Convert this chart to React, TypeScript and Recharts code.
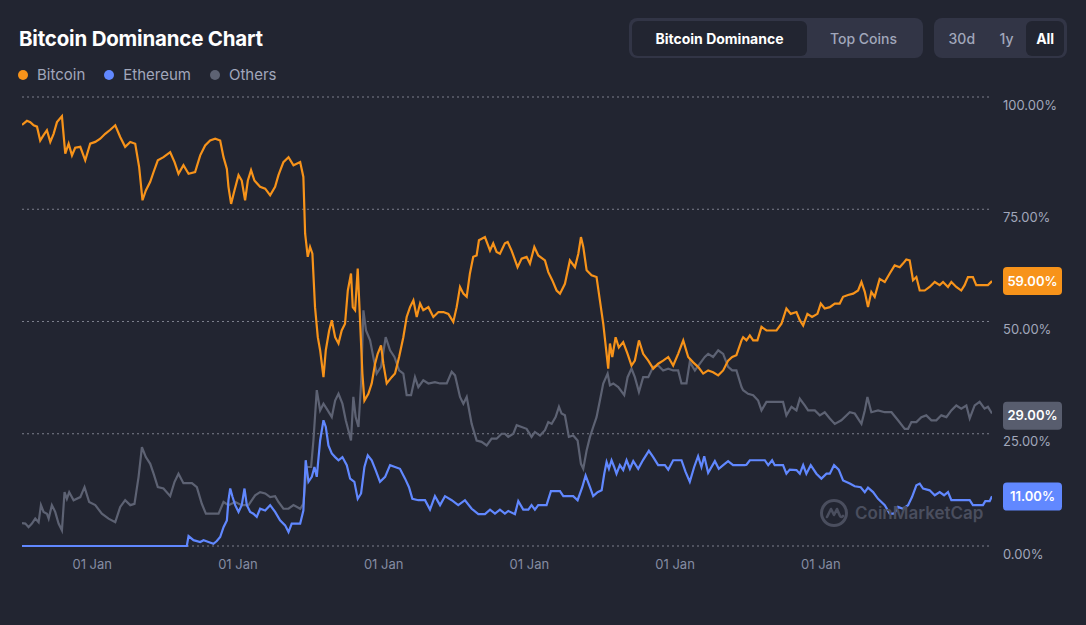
import { CartesianGrid, Line, LineChart, ReferenceLine, XAxis, YAxis } from "recharts";

// [decimal year, dominance %]
const bitcoin: [number, number][] = [
  [2013.518, 93.8], [2013.552, 94.7], [2013.575, 94.4], [2013.598, 93.7], [2013.621, 93.4], [2013.643, 90.3],
  [2013.666, 91.5], [2013.689, 92.6], [2013.712, 90.0], [2013.735, 91.8], [2013.758, 94.4], [2013.792, 95.7],
  [2013.815, 87.4], [2013.838, 89.6], [2013.861, 87.0], [2013.883, 88.7], [2013.918, 88.9], [2013.952, 85.9],
  [2013.986, 89.6], [2014.021, 90.0], [2014.055, 90.7], [2014.089, 91.8], [2014.124, 92.7], [2014.158, 93.7],
  [2014.192, 91.1], [2014.226, 88.9], [2014.261, 90.0], [2014.295, 89.6], [2014.322, 84.4], [2014.345, 77.0],
  [2014.368, 79.2], [2014.398, 81.1], [2014.421, 83.3], [2014.45, 85.9], [2014.489, 86.6], [2014.535, 87.7],
  [2014.565, 85.5], [2014.592, 82.9], [2014.626, 84.8], [2014.661, 82.9], [2014.706, 83.3], [2014.741, 87.0],
  [2014.775, 89.2], [2014.809, 90.3], [2014.844, 90.7], [2014.878, 90.3], [2014.901, 86.6], [2014.924, 84.0],
  [2014.935, 80.0], [2014.953, 76.2], [2014.976, 79.2], [2015.004, 82.6], [2015.026, 81.4], [2015.049, 77.0],
  [2015.068, 81.4], [2015.09, 83.7], [2015.113, 81.4], [2015.152, 80.0], [2015.187, 79.6], [2015.221, 78.1],
  [2015.255, 80.0], [2015.278, 82.6], [2015.312, 85.5], [2015.347, 86.6], [2015.381, 84.8], [2015.427, 85.5],
  [2015.449, 82.2], [2015.461, 69.6], [2015.479, 64.4], [2015.495, 66.6], [2015.511, 65.1], [2015.529, 53.2],
  [2015.548, 46.5], [2015.564, 43.6], [2015.587, 37.6], [2015.603, 43.6], [2015.626, 48.0], [2015.644, 50.3],
  [2015.667, 46.5], [2015.69, 45.1], [2015.712, 48.0], [2015.735, 49.5], [2015.754, 56.9], [2015.776, 60.7],
  [2015.788, 53.2], [2015.804, 52.5], [2015.822, 61.8], [2015.838, 50.3], [2015.854, 38.4], [2015.868, 32.4],
  [2015.895, 33.9], [2015.918, 36.2], [2015.941, 40.6], [2015.959, 42.8], [2015.982, 44.7], [2015.998, 40.6],
  [2016.021, 36.2], [2016.055, 37.6], [2016.078, 38.4], [2016.106, 42.1], [2016.135, 46.5], [2016.158, 51.0],
  [2016.181, 53.2], [2016.204, 54.7], [2016.227, 51.0], [2016.25, 54.0], [2016.272, 52.5], [2016.307, 53.2],
  [2016.341, 51.0], [2016.376, 52.1], [2016.41, 52.1], [2016.444, 51.7], [2016.478, 49.9], [2016.501, 53.2],
  [2016.524, 57.7], [2016.547, 56.2], [2016.57, 55.5], [2016.592, 60.7], [2016.615, 64.4], [2016.638, 64.7],
  [2016.654, 68.1], [2016.695, 68.8], [2016.73, 65.8], [2016.752, 67.4], [2016.775, 65.5], [2016.798, 65.1],
  [2016.832, 67.4], [2016.851, 67.7], [2016.878, 65.8], [2016.919, 62.1], [2016.947, 64.0], [2016.981, 64.4],
  [2017.004, 62.9], [2017.034, 66.6], [2017.061, 64.7], [2017.107, 63.6], [2017.13, 61.0], [2017.157, 59.2],
  [2017.187, 56.9], [2017.21, 56.2], [2017.244, 58.4], [2017.278, 63.6], [2017.313, 62.1], [2017.336, 65.1],
  [2017.354, 68.8], [2017.37, 66.6], [2017.393, 61.4], [2017.427, 60.3], [2017.461, 59.9], [2017.484, 54.7],
  [2017.507, 49.5], [2017.53, 42.8], [2017.541, 39.5], [2017.553, 45.1], [2017.569, 42.1], [2017.592, 46.5],
  [2017.614, 44.2], [2017.644, 45.4], [2017.674, 42.8], [2017.701, 40.2], [2017.724, 41.3], [2017.752, 45.8],
  [2017.781, 42.8], [2017.816, 41.3], [2017.85, 39.5], [2017.884, 40.6], [2017.918, 41.3], [2017.953, 42.1],
  [2017.987, 40.2], [2018.021, 42.8], [2018.056, 45.8], [2018.09, 42.1], [2018.124, 40.9], [2018.158, 39.9],
  [2018.193, 38.4], [2018.227, 39.1], [2018.261, 38.7], [2018.296, 38.0], [2018.33, 39.1], [2018.364, 41.3],
  [2018.392, 42.1], [2018.421, 42.5], [2018.456, 45.8], [2018.467, 46.5], [2018.49, 45.8], [2018.513, 46.9],
  [2018.536, 45.8], [2018.565, 45.8], [2018.593, 48.8], [2018.627, 48.0], [2018.661, 48.0], [2018.696, 48.0],
  [2018.73, 49.5], [2018.764, 52.9], [2018.794, 51.7], [2018.833, 52.1], [2018.856, 50.3], [2018.879, 49.1],
  [2018.908, 51.7], [2018.94, 51.0], [2018.977, 51.7], [2019.0, 54.0], [2019.027, 52.9], [2019.062, 53.2],
  [2019.096, 54.0], [2019.13, 54.0], [2019.153, 55.5], [2019.187, 55.9], [2019.222, 56.2], [2019.256, 56.9],
  [2019.279, 58.8], [2019.302, 56.6], [2019.324, 53.2], [2019.347, 56.6], [2019.37, 55.5], [2019.404, 59.5],
  [2019.439, 58.8], [2019.473, 60.7], [2019.507, 62.5], [2019.542, 62.1], [2019.564, 62.9], [2019.587, 63.8],
  [2019.61, 63.6], [2019.633, 59.2], [2019.656, 59.9], [2019.679, 56.9], [2019.713, 56.9], [2019.747, 57.7],
  [2019.782, 58.8], [2019.816, 58.1], [2019.839, 58.8], [2019.873, 57.7], [2019.896, 58.8], [2019.93, 57.7],
  [2019.964, 56.9], [2019.987, 58.1], [2020.01, 59.9], [2020.044, 59.9], [2020.067, 58.1], [2020.113, 58.1],
  [2020.147, 58.1], [2020.175, 59.0],
];

const ethereum: [number, number][] = [
  [2013.518, 0], [2014.649, 0], [2014.661, 2.2], [2014.695, 1.3], [2014.741, 0.9], [2014.764, 1.3],
  [2014.798, 0.9], [2014.832, 0.5], [2014.855, 1.1], [2014.878, 2.0], [2014.901, 4.2], [2014.924, 5.7],
  [2014.935, 10.2], [2014.947, 12.8], [2014.963, 10.9], [2014.981, 9.1], [2015.004, 7.6], [2015.026, 9.1],
  [2015.045, 12.8], [2015.061, 9.1], [2015.084, 7.6], [2015.106, 7.2], [2015.129, 6.5], [2015.152, 8.3],
  [2015.187, 7.9], [2015.221, 9.1], [2015.255, 7.6], [2015.289, 5.7], [2015.324, 4.6], [2015.347, 3.1],
  [2015.369, 5.0], [2015.427, 5.0], [2015.449, 7.9], [2015.465, 19.1], [2015.484, 14.3], [2015.507, 15.4],
  [2015.525, 17.6], [2015.541, 15.4], [2015.564, 23.5], [2015.587, 28.0], [2015.603, 26.5], [2015.621, 22.4],
  [2015.644, 20.6], [2015.667, 19.8], [2015.69, 19.1], [2015.717, 19.8], [2015.747, 18.0], [2015.77, 15.0],
  [2015.799, 14.3], [2015.822, 10.5], [2015.845, 11.7], [2015.868, 17.6], [2015.891, 20.2], [2015.918, 19.1],
  [2015.945, 16.9], [2015.975, 14.3], [2016.01, 15.4], [2016.044, 18.0], [2016.078, 17.6], [2016.112, 17.2],
  [2016.147, 15.0], [2016.174, 13.1], [2016.197, 10.5], [2016.238, 10.2], [2016.284, 10.2], [2016.318, 8.1],
  [2016.352, 11.1], [2016.387, 9.1], [2016.421, 11.1], [2016.467, 10.2], [2016.512, 9.1], [2016.558, 10.2],
  [2016.604, 8.3], [2016.65, 7.1], [2016.695, 7.1], [2016.73, 8.1], [2016.764, 7.2], [2016.798, 8.1],
  [2016.832, 7.2], [2016.855, 7.8], [2016.901, 7.1], [2016.924, 10.0], [2016.958, 8.1], [2016.993, 8.1],
  [2017.015, 9.1], [2017.038, 8.1], [2017.061, 9.1], [2017.118, 9.1], [2017.148, 12.2], [2017.21, 12.2],
  [2017.233, 11.1], [2017.301, 11.1], [2017.331, 10.2], [2017.363, 13.1], [2017.386, 15.7], [2017.416, 13.1],
  [2017.438, 11.1], [2017.468, 12.0], [2017.496, 12.4], [2017.514, 16.1], [2017.53, 18.7], [2017.546, 17.2],
  [2017.564, 19.1], [2017.582, 17.6], [2017.598, 16.1], [2017.621, 18.0], [2017.644, 16.9], [2017.667, 19.1],
  [2017.69, 17.2], [2017.713, 18.9], [2017.747, 17.2], [2017.781, 19.2], [2017.82, 21.2], [2017.85, 19.8],
  [2017.884, 18.0], [2017.93, 18.0], [2017.953, 17.0], [2017.987, 19.1], [2018.044, 19.1], [2018.072, 16.5],
  [2018.101, 14.3], [2018.131, 17.6], [2018.158, 20.0], [2018.181, 17.6], [2018.2, 20.0], [2018.227, 16.3],
  [2018.273, 18.9], [2018.3, 17.2], [2018.33, 18.0], [2018.364, 18.9], [2018.398, 18.0], [2018.478, 18.0],
  [2018.49, 18.1], [2018.513, 19.1], [2018.616, 19.1], [2018.639, 18.0], [2018.666, 19.1], [2018.684, 18.0],
  [2018.741, 18.0], [2018.764, 16.1], [2018.787, 17.0], [2018.833, 16.9], [2018.856, 16.1], [2018.879, 18.0],
  [2018.901, 16.1], [2018.931, 18.0], [2018.97, 16.1], [2019.004, 15.0], [2019.039, 16.1], [2019.062, 16.1],
  [2019.091, 18.0], [2019.123, 17.0], [2019.153, 14.6], [2019.199, 13.9], [2019.233, 13.3], [2019.274, 13.1],
  [2019.302, 12.0], [2019.324, 13.0], [2019.359, 12.0], [2019.393, 10.5], [2019.439, 9.1], [2019.473, 7.2],
  [2019.503, 7.2], [2019.53, 8.7], [2019.564, 8.3], [2019.599, 9.1], [2019.626, 10.9], [2019.656, 13.5],
  [2019.679, 13.9], [2019.702, 12.8], [2019.747, 12.4], [2019.782, 11.3], [2019.816, 12.0], [2019.846, 11.3],
  [2019.873, 12.0], [2019.896, 10.2], [2020.022, 10.2], [2020.044, 9.1], [2020.113, 9.1], [2020.129, 10.0],
  [2020.159, 10.0], [2020.175, 11.1],
];

const others: [number, number][] = [
  [2013.518, 5.1], [2013.541, 5.0], [2013.563, 4.2], [2013.586, 5.0], [2013.609, 6.1], [2013.632, 5.3],
  [2013.648, 9.1], [2013.666, 7.6], [2013.689, 7.2], [2013.701, 6.1], [2013.723, 9.1], [2013.746, 7.6],
  [2013.769, 5.0], [2013.792, 3.5], [2013.81, 12.0], [2013.826, 10.5], [2013.842, 12.0], [2013.872, 10.2],
  [2013.918, 10.9], [2013.947, 13.1], [2013.979, 9.8], [2014.021, 9.1], [2014.066, 7.2], [2014.112, 6.1],
  [2014.158, 5.3], [2014.192, 8.7], [2014.226, 10.2], [2014.261, 9.1], [2014.29, 9.4], [2014.318, 15.4],
  [2014.341, 22.0], [2014.368, 19.8], [2014.398, 18.3], [2014.421, 16.1], [2014.45, 13.1], [2014.489, 12.8],
  [2014.535, 11.1], [2014.565, 14.3], [2014.592, 16.1], [2014.626, 14.0], [2014.684, 14.0], [2014.718, 13.1],
  [2014.752, 9.4], [2014.78, 7.2], [2014.867, 7.2], [2014.901, 9.8], [2014.935, 9.1], [2014.981, 9.8],
  [2015.026, 9.1], [2015.072, 9.1], [2015.118, 11.3], [2015.152, 12.0], [2015.187, 11.7], [2015.221, 10.9],
  [2015.255, 11.1], [2015.278, 9.8], [2015.312, 8.3], [2015.347, 8.3], [2015.381, 9.1], [2015.427, 8.3],
  [2015.449, 9.4], [2015.472, 17.6], [2015.502, 17.6], [2015.518, 23.5], [2015.541, 34.7], [2015.564, 30.2],
  [2015.587, 31.7], [2015.616, 30.2], [2015.644, 28.7], [2015.667, 32.4], [2015.69, 33.9], [2015.717, 31.7],
  [2015.74, 28.0], [2015.758, 25.8], [2015.776, 23.5], [2015.792, 33.2], [2015.808, 28.7], [2015.827, 26.5],
  [2015.845, 36.2], [2015.861, 52.5], [2015.879, 48.0], [2015.907, 45.8], [2015.929, 42.1], [2015.952, 38.4],
  [2015.982, 39.9], [2016.014, 46.5], [2016.044, 43.6], [2016.074, 42.1], [2016.106, 39.1], [2016.135, 38.4],
  [2016.158, 33.6], [2016.188, 33.6], [2016.215, 37.6], [2016.238, 35.4], [2016.272, 36.9], [2016.307, 36.2],
  [2016.352, 36.5], [2016.387, 36.2], [2016.433, 36.2], [2016.467, 38.8], [2016.49, 38.0], [2016.524, 33.2],
  [2016.547, 31.7], [2016.57, 33.2], [2016.604, 27.2], [2016.638, 23.5], [2016.672, 23.2], [2016.707, 22.4],
  [2016.741, 23.9], [2016.775, 23.9], [2016.81, 25.0], [2016.832, 25.0], [2016.855, 24.3], [2016.89, 25.0],
  [2016.913, 26.9], [2016.947, 26.5], [2016.981, 26.1], [2017.015, 24.3], [2017.038, 25.4], [2017.073, 24.6],
  [2017.107, 25.8], [2017.13, 27.6], [2017.153, 27.2], [2017.18, 28.7], [2017.203, 31.0], [2017.221, 29.5],
  [2017.244, 29.1], [2017.271, 24.3], [2017.301, 24.6], [2017.331, 23.5], [2017.354, 18.3], [2017.37, 17.2],
  [2017.393, 21.3], [2017.416, 24.3], [2017.438, 26.5], [2017.461, 28.7], [2017.484, 32.4], [2017.507, 36.2],
  [2017.537, 38.4], [2017.553, 35.8], [2017.576, 36.2], [2017.61, 35.4], [2017.651, 33.6], [2017.674, 37.6],
  [2017.701, 39.5], [2017.724, 37.6], [2017.752, 34.3], [2017.781, 37.6], [2017.816, 37.6], [2017.85, 39.9],
  [2017.884, 40.2], [2017.918, 39.1], [2017.953, 39.5], [2017.987, 39.1], [2018.021, 39.1], [2018.044, 36.2],
  [2018.078, 36.2], [2018.101, 41.0], [2018.136, 39.1], [2018.17, 40.6], [2018.204, 42.1], [2018.227, 42.8],
  [2018.261, 42.1], [2018.296, 43.6], [2018.33, 42.8], [2018.364, 39.9], [2018.392, 39.1], [2018.421, 39.1],
  [2018.456, 35.4], [2018.467, 34.7], [2018.501, 33.9], [2018.536, 33.6], [2018.57, 32.4], [2018.593, 30.2],
  [2018.627, 32.1], [2018.741, 32.1], [2018.764, 29.1], [2018.799, 31.0], [2018.833, 30.2], [2018.856, 32.8],
  [2018.89, 31.3], [2018.913, 30.2], [2018.959, 30.2], [2018.993, 29.1], [2019.027, 29.8], [2019.062, 28.4],
  [2019.096, 27.2], [2019.141, 28.0], [2019.199, 29.8], [2019.233, 29.5], [2019.279, 27.2], [2019.302, 30.2],
  [2019.32, 33.2], [2019.347, 29.8], [2019.393, 30.2], [2019.439, 29.8], [2019.485, 29.8], [2019.53, 28.0],
  [2019.576, 26.1], [2019.599, 26.1], [2019.622, 27.6], [2019.656, 27.6], [2019.69, 28.7], [2019.724, 29.1],
  [2019.759, 28.0], [2019.793, 28.0], [2019.827, 29.1], [2019.862, 28.7], [2019.896, 30.2], [2019.93, 31.3],
  [2019.964, 30.6], [2019.999, 31.3], [2020.022, 28.4], [2020.056, 31.3], [2020.09, 32.1], [2020.124, 30.6],
  [2020.147, 31.0], [2020.175, 29.5],
];

const yearTicks = [2014, 2015, 2016, 2017, 2018, 2019];
const pctTicks = [0, 25, 50, 75, 100];
const latest = { bitcoin: 59, ethereum: 11, others: 29 };

const toRows = (pts: [number, number][]) => pts.map(([t, v]) => ({ t, v }));

const COLORS = {
  bitcoin: "#f7931a",
  ethereum: "#6188ff",
  others: "#5d6273",
  othersBadge: "#585d6e",
};

const FONT = "Inter, 'Noto Sans', sans-serif";

function Badge({ viewBox, text, fill }: any) {
  if (!viewBox) return null;
  const x = viewBox.x + viewBox.width + 11;
  const cy = viewBox.y;
  return (
    <g>
      <rect x={x} y={cy - 14} width={59} height={28} rx={4} fill={fill} />
      <text x={x + 29.5} y={cy + 4.5} textAnchor="middle" fill="#fff" fontSize={13} fontWeight={600} fontFamily={FONT}>
        {text}
      </text>
    </g>
  );
}

function XTick({ x, y }: any) {
  return (
    <text x={x} y={y + 23} textAnchor="middle" fill="#858ca2" fontSize={13} fontFamily={FONT}>
      01 Jan
    </text>
  );
}

function YTick({ x, y, payload }: any) {
  return (
    <text x={x + 11} y={y + 12.5} textAnchor="start" fill="#a1a7bb" fontSize={13} fontFamily={FONT}>
      {`${payload.value.toFixed(2)}%`}
    </text>
  );
}

function LegendItem({ color, label }: { color: string; label: string }) {
  return (
    <div style={{ display: "flex", alignItems: "center", marginRight: 19 }}>
      <span style={{ width: 10, height: 10, borderRadius: 5, background: color, marginRight: 9 }} />
      <span style={{ color: "#a1a7bb", fontSize: 15 }}>{label}</span>
    </div>
  );
}

const groupStyle: React.CSSProperties = {
  position: "absolute",
  top: 18,
  height: 40,
  background: "#323546",
  borderRadius: 8,
  display: "flex",
  alignItems: "center",
  boxSizing: "border-box",
  padding: "0 3px",
  fontSize: 14,
  fontWeight: 600,
};

function Tab({ label, active, width }: { label: string; active?: boolean; width: number }) {
  return (
    <div
      style={{
        width,
        height: 35,
        borderRadius: 6,
        background: active ? "#222531" : "transparent",
        color: active ? "#fff" : "#a1a7bb",
        fontWeight: active ? 700 : 500,
        display: "flex",
        alignItems: "center",
        justifyContent: "center",
      }}
    >
      {label}
    </div>
  );
}

export default function App() {
  return (
    <div
      style={{
        position: "absolute",
        left: 0,
        top: 0,
        width: 1086,
        height: 625,
        background: "#222531",
        fontFamily: FONT,
        overflow: "hidden",
      }}
    >
      <div style={{ position: "absolute", left: 19, top: 26, color: "#fff", fontSize: 20.5, fontWeight: 700, letterSpacing: -0.2 }}>
        Bitcoin Dominance Chart
      </div>
      <div style={{ position: "absolute", left: 18, top: 65, display: "flex" }}>
        <LegendItem color={COLORS.bitcoin} label="Bitcoin" />
        <LegendItem color={COLORS.ethereum} label="Ethereum" />
        <LegendItem color={COLORS.others} label="Others" />
      </div>

      <div style={{ ...groupStyle, left: 629, width: 294 }}>
        <Tab label="Bitcoin Dominance" active width={175} />
        <Tab label="Top Coins" width={113} />
      </div>
      <div style={{ ...groupStyle, left: 934, width: 133 }}>
        <Tab label="30d" width={50} />
        <Tab label="1y" width={40} />
        <Tab label="All" active width={38} />
      </div>

      <div style={{ position: "absolute", left: 0, top: 0 }}>
        <LineChart width={1086} height={625} margin={{ top: 97, right: 0, bottom: 49, left: 22 }}>
          <CartesianGrid horizontal vertical={false} stroke="#7c7f8c" strokeDasharray="2 3" />
          <XAxis
            type="number"
            dataKey="t"
            domain={[2013.518, 2020.175]}
            allowDataOverflow
            ticks={yearTicks}
            tick={<XTick />}
            tickLine={false}
            axisLine={false}
            tickSize={0}
            tickMargin={0}
            height={30}
          />
          <YAxis
            orientation="right"
            domain={[0, 100]}
            ticks={pctTicks}
            tick={<YTick />}
            tickLine={false}
            axisLine={false}
            tickSize={0}
            tickMargin={0}
            width={94}
          />
          <Line data={toRows(others)} dataKey="v" stroke={COLORS.others} strokeWidth={2.2} dot={false} type="linear" isAnimationActive={false} />
          <Line data={toRows(ethereum)} dataKey="v" stroke={COLORS.ethereum} strokeWidth={2.2} dot={false} type="linear" isAnimationActive={false} />
          <Line data={toRows(bitcoin)} dataKey="v" stroke={COLORS.bitcoin} strokeWidth={2.2} dot={false} type="linear" isAnimationActive={false} />
          <ReferenceLine y={latest.bitcoin} stroke="none" label={<Badge text="59.00%" fill={COLORS.bitcoin} />} />
          <ReferenceLine y={latest.others} stroke="none" label={<Badge text="29.00%" fill={COLORS.othersBadge} />} />
          <ReferenceLine y={latest.ethereum} stroke="none" label={<Badge text="11.00%" fill={COLORS.ethereum} />} />
        </LineChart>
      </div>

      <div style={{ position: "absolute", left: 819, top: 498, display: "flex", alignItems: "center", color: "#4a4e5e", pointerEvents: "none" }}>
        <svg width={30} height={30} viewBox="0 0 30 30">
          <circle cx={15} cy={15} r={12.5} fill="none" stroke="#4a4e5e" strokeWidth={3} />
          <path d="M8 19 L12 11 L15 17 L18 11 L21 18 Q22 20 24 18" fill="none" stroke="#4a4e5e" strokeWidth={2.6} strokeLinejoin="round" strokeLinecap="round" />
        </svg>
        <span style={{ marginLeft: 6, fontSize: 17, fontWeight: 600 }}>CoinMarketCap</span>
      </div>
    </div>
  );
}
